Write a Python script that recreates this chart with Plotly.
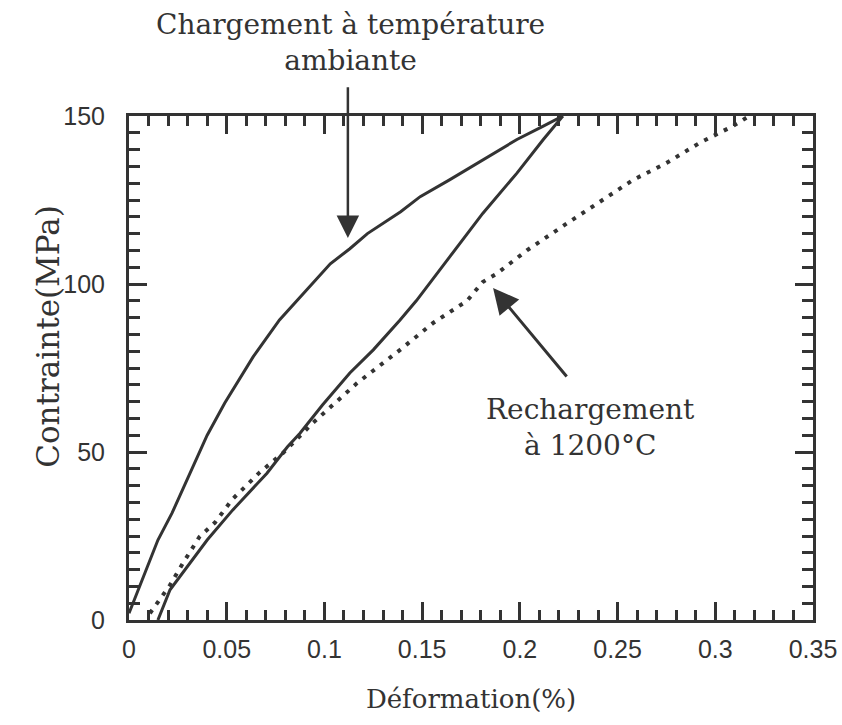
import plotly.graph_objects as go

# Loading at room temperature (solid, upper branch)
charge_x = [0, 0.0072, 0.0148, 0.022, 0.030, 0.040, 0.049, 0.053, 0.0635, 0.077, 0.094,
            0.103, 0.113, 0.122, 0.139, 0.149, 0.164, 0.181, 0.1985, 0.212, 0.222]
charge_y = [2, 12.8, 23.8, 31.8, 42, 55, 64.6, 68.4, 78.3, 89.3, 100.3,
            106, 110.5, 115, 121.5, 126, 131, 137, 143, 147, 150]

# Unloading (solid, lower branch)
decharge_x = [0.222, 0.212, 0.1985, 0.181, 0.164, 0.147, 0.1387, 0.125, 0.113, 0.099,
              0.0875, 0.081, 0.0706, 0.053, 0.040, 0.0277, 0.021, 0.0148]
decharge_y = [150, 143, 133, 121, 108, 95, 89.3, 80.4, 73.5, 64,
              55.6, 51.5, 43.7, 32.7, 23.8, 14, 9, 0]

# Reloading at 1200 C (dotted)
recharge_x = [0.0107, 0.021, 0.0277, 0.036, 0.044, 0.053, 0.067, 0.0788, 0.094, 0.1167,
              0.1387, 0.1556, 0.173, 0.181, 0.188, 0.2036, 0.224, 0.2395, 0.258, 0.275,
              0.292, 0.309, 0.316]
recharge_y = [2, 10.4, 17, 24.7, 29, 36, 44, 49.7, 58.6, 70.5,
              80.4, 88.4, 95, 100.6, 103, 110, 118, 124, 131, 136,
              142, 147, 149.5]

x_ticks = [0, 0.05, 0.1, 0.15, 0.2, 0.25, 0.3, 0.35]
x_ticklabels = ["0", "0.05", "0.1", "0.15", "0.2", "0.25", "0.3", "0.35"]
y_ticks = [0, 50, 100, 150]
y_ticklabels = ["0", "50", "100", "150"]

INK = "#333333"
SERIF = "DejaVu Serif"
SANS = "Liberation Sans"

fig = go.Figure()
fig.add_trace(go.Scatter(x=charge_x, y=charge_y, mode="lines",
                         line=dict(color=INK, width=3), showlegend=False,
                         name="Chargement à température ambiante"))
fig.add_trace(go.Scatter(x=decharge_x, y=decharge_y, mode="lines",
                         line=dict(color=INK, width=3), showlegend=False,
                         name="Déchargement"))
fig.add_trace(go.Scatter(x=recharge_x, y=recharge_y, mode="lines",
                         line=dict(color=INK, width=4, dash="4px,7px"), showlegend=False,
                         name="Rechargement à 1200°C"))

axis_common = dict(
    showline=True, linecolor=INK, linewidth=3, mirror="allticks",
    ticks="inside", ticklen=18, tickwidth=2.5, tickcolor=INK,
    showgrid=False, zeroline=False, automargin=False,
    tickfont=dict(family=SANS, size=25, color=INK),
)

fig.update_xaxes(
    range=[0, 0.35], tickvals=x_ticks, ticktext=x_ticklabels,
    minor=dict(ticks="inside", ticklen=10, tickwidth=2.5, tickcolor=INK, dtick=0.01),
    ticklabelstandoff=5,
    title=dict(text="Déformation(%)", font=dict(family=SERIF, size=26, color=INK), standoff=28),
    **axis_common,
)
fig.update_yaxes(
    range=[0, 150], tickvals=y_ticks, ticktext=y_ticklabels,
    minor=dict(ticks="inside", ticklen=11, tickwidth=2.5, tickcolor=INK, dtick=5),
    ticklabelstandoff=16,
    **axis_common,
)

# Y-axis title (placed to match reference position)
fig.add_annotation(x=-0.148, y=0.5635, xref="paper", yref="paper", showarrow=False,
                   text="Contrainte(MPa)", textangle=-90,
                   font=dict(family=SERIF, size=31, color=INK))

# Arrows
fig.add_annotation(x=0.112, y=113.7, ax=0.112, ay=159, xref="x", yref="y",
                   axref="x", ayref="y", showarrow=True, arrowhead=2, arrowsize=1.8,
                   arrowwidth=2.5, arrowcolor=INK, text="")
fig.add_annotation(x=0.1863, y=98.8, ax=0.2246, ay=72, xref="x", yref="y",
                   axref="x", ayref="y", showarrow=True, arrowhead=2, arrowsize=1.7,
                   arrowwidth=3, arrowcolor=INK, text="")

# Labels
fig.add_annotation(x=0.1131, y=(620 - 42) / 504, xref="x", yref="paper", showarrow=False,
                   yanchor="middle", xanchor="center",
                   text="Chargement à température<br>ambiante",
                   font=dict(family=SERIF, size=28, color=INK), align="center")
fig.add_annotation(x=0.236, y=57.4, xref="x", yref="y", showarrow=False,
                   yanchor="middle", xanchor="center",
                   text="Rechargement<br>à 1200°C",
                   font=dict(family=SERIF, size=28, color=INK), align="center")

fig.update_layout(
    width=842, height=725,
    margin=dict(l=129, r=29, t=116, b=105),
    plot_bgcolor="white", paper_bgcolor="white",
    showlegend=False,
)

fig.write_html(
    "out.html",
    config={"displayModeBar": False},
    post_script="document.body.style.margin='0';document.body.style.overflow='hidden';",
)
